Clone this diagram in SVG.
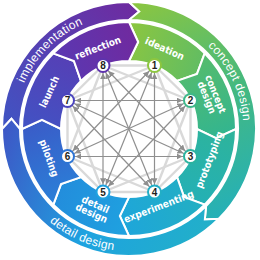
<svg xmlns="http://www.w3.org/2000/svg" xmlns:xlink="http://www.w3.org/1999/xlink" width="260" height="260" viewBox="0 0 260 260">
<defs>
<style>
.seg{stroke:#fff;stroke-width:2;stroke-linejoin:miter}
.il{font-family:"Liberation Sans Narrow","DejaVu Sans Condensed","Liberation Sans",sans-serif;font-size:10px;font-weight:bold;fill:#fff;text-anchor:middle}
.ol{font-family:"Liberation Sans","DejaVu Sans",sans-serif;font-size:12px;fill:#fff;letter-spacing:0.3px}
.light{stroke:#d9d9d9;stroke-width:2.4;fill:none}
.dark{stroke:#8f8f8f;stroke-width:1.2;fill:none;marker-start:url(#ah);marker-end:url(#ah)}
.node circle{fill:#fff;stroke-width:2}
.node text{font-family:"Liberation Sans","DejaVu Sans",sans-serif;font-size:10px;font-weight:bold;fill:#231f20;text-anchor:middle}
</style>
<marker id="ah" viewBox="0 0 10 10" refX="23" refY="5" markerWidth="6" markerHeight="6" markerUnits="userSpaceOnUse" orient="auto-start-reverse">
<path d="M0,0 L10,5 L0,10 z" fill="#8f8f8f"/>
</marker>
<path id="inSeg" d="M-40.95,-98.86 A107,107 0 0 1 40.95,-98.86 L41.75,-76.90 L26.02,-62.82 A68,68 0 0 0 -26.02,-62.82 L-24.85,-83.90 Z"/>
<linearGradient id="g1"><stop offset="0" stop-color="#8dc63f"/><stop offset="1" stop-color="#62bd62"/></linearGradient>
<linearGradient id="g2"><stop offset="0" stop-color="#56bc6c"/><stop offset="1" stop-color="#33b58f"/></linearGradient>
<linearGradient id="g3"><stop offset="0" stop-color="#2eb49a"/><stop offset="1" stop-color="#24b0b5"/></linearGradient>
<linearGradient id="g4"><stop offset="0" stop-color="#23afc2"/><stop offset="1" stop-color="#1ea6da"/></linearGradient>
<linearGradient id="g5"><stop offset="0" stop-color="#1ea3e0"/><stop offset="1" stop-color="#238ddc"/></linearGradient>
<linearGradient id="g6"><stop offset="0" stop-color="#2a80d8"/><stop offset="1" stop-color="#3a5cc8"/></linearGradient>
<linearGradient id="g7"><stop offset="0" stop-color="#4153c4"/><stop offset="1" stop-color="#5540b6"/></linearGradient>
<linearGradient id="g8"><stop offset="0" stop-color="#5a38b2"/><stop offset="1" stop-color="#702a9f"/></linearGradient>
<linearGradient id="oImp"><stop offset="0" stop-color="#3f55c4"/><stop offset="1" stop-color="#6e2ba0"/></linearGradient>
<linearGradient id="oCon"><stop offset="0" stop-color="#8dc63f"/><stop offset="0.5" stop-color="#45b97e"/><stop offset="1" stop-color="#25b0b8"/></linearGradient>
<linearGradient id="oDet"><stop offset="0" stop-color="#22b0c8"/><stop offset="0.5" stop-color="#1ea3e0"/><stop offset="1" stop-color="#3e56c6"/></linearGradient>
<path id="pImp" d="M14.5,129 A114.5,114.5 0 0 1 129,14.5"/>
<path id="pCon" d="M129,14.5 A114.5,114.5 0 0 1 209.96,209.96"/>
<path id="pDet" d="M7,129 A122,122 0 0 0 215.27,215.27"/>
</defs>
<rect width="260" height="260" fill="#fff"/>

<g id="outer-ring">
<g id="implementation">
<path class="seg" fill="url(#oImp)" transform="translate(129,129) rotate(-45)" d="M-89.80,-89.80 A127,127 0 0 1 89.80,-89.80 L90.39,-75.85 L77.07,-77.07 A109,109 0 0 0 -77.07,-77.07 L-75.85,-90.39 Z"/>
<text class="ol"><textPath xlink:href="#pImp" href="#pImp" startOffset="50%" text-anchor="middle">implementation</textPath></text>
</g>
<g id="concept-design-phase">
<path class="seg" fill="url(#oCon)" transform="translate(129,129) rotate(67.5)" d="M-117.33,-48.60 A127,127 0 0 1 117.33,-48.60 L112.54,-35.48 L100.70,-41.71 A109,109 0 0 0 -100.70,-41.71 L-104.67,-54.49 Z"/>
<text class="ol"><textPath xlink:href="#pCon" href="#pCon" startOffset="48%" text-anchor="middle">concept design</textPath></text>
</g>
<g id="detail-design-phase">
<path class="seg" fill="url(#oDet)" transform="translate(129,129) rotate(202.5)" d="M-117.33,-48.60 A127,127 0 0 1 117.33,-48.60 L112.54,-35.48 L100.70,-41.71 A109,109 0 0 0 -100.70,-41.71 L-104.67,-54.49 Z"/>
<text class="ol"><textPath xlink:href="#pDet" href="#pDet" startOffset="49%" text-anchor="middle">detail design</textPath></text>
</g>
</g>

<g id="inner-ring">
<g id="seg-ideation"><use href="#inSeg" xlink:href="#inSeg" class="seg" fill="url(#g1)" transform="translate(129,129) rotate(22.5)"/>
<text class="il" transform="translate(129,129) rotate(24) translate(0,-88)" y="3.5">ideation</text></g>
<g id="seg-concept"><use href="#inSeg" xlink:href="#inSeg" class="seg" fill="url(#g2)" transform="translate(129,129) rotate(67.5)"/>
<text class="il" transform="translate(129,129) rotate(68) translate(0,-89)"><tspan x="0" y="-1">concept</tspan><tspan x="0" y="8.5">design</tspan></text></g>
<g id="seg-prototyping"><use href="#inSeg" xlink:href="#inSeg" class="seg" fill="url(#g3)" transform="translate(129,129) rotate(112.5)"/>
<text class="il" transform="translate(129,129) rotate(111) translate(0,-86) rotate(180)" y="3.5">prototyping</text></g>
<g id="seg-experimenting"><use href="#inSeg" xlink:href="#inSeg" class="seg" fill="url(#g4)" transform="translate(129,129) rotate(157.5)"/>
<text class="il" transform="translate(129,129) rotate(159) translate(0,-83) rotate(180)" y="3.5">experimenting</text></g>
<g id="seg-detail"><use href="#inSeg" xlink:href="#inSeg" class="seg" fill="url(#g5)" transform="translate(129,129) rotate(202.5)"/>
<text class="il" transform="translate(129,129) rotate(204) translate(0,-87) rotate(180)"><tspan x="0" y="-1">detail</tspan><tspan x="0" y="8.5">design</tspan></text></g>
<g id="seg-piloting"><use href="#inSeg" xlink:href="#inSeg" class="seg" fill="url(#g6)" transform="translate(129,129) rotate(247.5)"/>
<text class="il" transform="translate(129,129) rotate(250) translate(0,-85) rotate(180)" y="3.5">piloting</text></g>
<g id="seg-launch"><use href="#inSeg" xlink:href="#inSeg" class="seg" fill="url(#g7)" transform="translate(129,129) rotate(292.5)"/>
<text class="il" transform="translate(129,129) rotate(295) translate(0,-88)" y="3.5">launch</text></g>
<g id="seg-reflection"><use href="#inSeg" xlink:href="#inSeg" class="seg" fill="url(#g8)" transform="translate(129,129) rotate(337.5)"/>
<text class="il" transform="translate(129,129) rotate(339) translate(0,-87)" y="3.5">reflection</text></g>
</g>

<g id="connectors">
<g class="light-edges">
<line class="light" x1="154.5" y1="65.5" x2="190.5" y2="100.5"/>
<line class="light" x1="190.5" y1="100.5" x2="190.5" y2="156.5"/>
<line class="light" x1="190.5" y1="156.5" x2="154.5" y2="192"/>
<line class="light" x1="154.5" y1="192" x2="103" y2="192"/>
<line class="light" x1="103" y1="192" x2="67.5" y2="156.5"/>
<line class="light" x1="67.5" y1="156.5" x2="67.5" y2="100.5"/>
<line class="light" x1="67.5" y1="100.5" x2="103" y2="65.5"/>
<line class="light" x1="103" y1="65.5" x2="154.5" y2="65.5"/>
<line class="light" x1="154.5" y1="65.5" x2="190.5" y2="156.5"/>
<line class="light" x1="190.5" y1="100.5" x2="154.5" y2="192"/>
<line class="light" x1="190.5" y1="156.5" x2="103" y2="192"/>
<line class="light" x1="154.5" y1="192" x2="67.5" y2="156.5"/>
<line class="light" x1="103" y1="192" x2="67.5" y2="100.5"/>
<line class="light" x1="67.5" y1="156.5" x2="103" y2="65.5"/>
<line class="light" x1="67.5" y1="100.5" x2="154.5" y2="65.5"/>
<line class="light" x1="103" y1="65.5" x2="190.5" y2="100.5"/>
</g>
<g class="dark-edges">
<line class="dark" x1="154.5" y1="65.5" x2="154.5" y2="192"/>
<line class="dark" x1="190.5" y1="100.5" x2="103" y2="192"/>
<line class="dark" x1="190.5" y1="156.5" x2="67.5" y2="156.5"/>
<line class="dark" x1="154.5" y1="192" x2="67.5" y2="100.5"/>
<line class="dark" x1="103" y1="192" x2="103" y2="65.5"/>
<line class="dark" x1="67.5" y1="156.5" x2="154.5" y2="65.5"/>
<line class="dark" x1="67.5" y1="100.5" x2="190.5" y2="100.5"/>
<line class="dark" x1="103" y1="65.5" x2="190.5" y2="156.5"/>
<line class="dark" x1="154.5" y1="65.5" x2="103" y2="192"/>
<line class="dark" x1="190.5" y1="100.5" x2="67.5" y2="156.5"/>
<line class="dark" x1="190.5" y1="156.5" x2="67.5" y2="100.5"/>
<line class="dark" x1="154.5" y1="192" x2="103" y2="65.5"/>
</g>
</g>

<g id="node-1" class="node"><circle cx="154.5" cy="65.5" r="6.5" stroke="#8dc63f"/><text x="154.5" y="69">1</text></g>
<g id="node-2" class="node"><circle cx="190.5" cy="100.5" r="6.5" stroke="#3db88a"/><text x="190.5" y="104">2</text></g>
<g id="node-3" class="node"><circle cx="190.5" cy="156.5" r="6.5" stroke="#2bb39f"/><text x="190.5" y="160">3</text></g>
<g id="node-4" class="node"><circle cx="154.5" cy="192" r="6.5" stroke="#22aec6"/><text x="154.5" y="195.5">4</text></g>
<g id="node-5" class="node"><circle cx="103" cy="192" r="6.5" stroke="#1ea3e0"/><text x="103" y="195.5">5</text></g>
<g id="node-6" class="node"><circle cx="67.5" cy="156.5" r="6.5" stroke="#2c74d4"/><text x="67.5" y="160">6</text></g>
<g id="node-7" class="node"><circle cx="67.5" cy="100.5" r="6.5" stroke="#4a44bd"/><text x="67.5" y="104">7</text></g>
<g id="node-8" class="node"><circle cx="103" cy="65.5" r="6.5" stroke="#5e33ad"/><text x="103" y="69">8</text></g>
</svg>
